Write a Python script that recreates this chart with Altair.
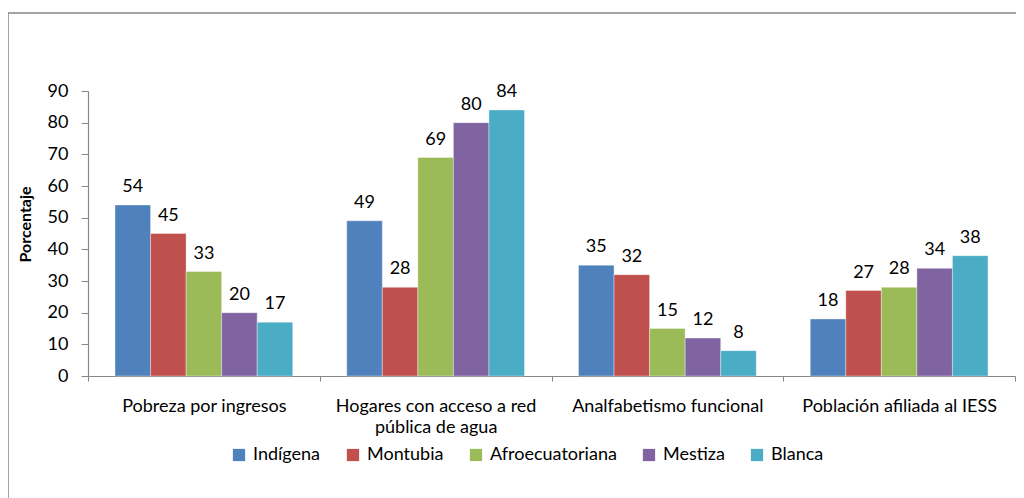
import altair as alt
import pandas as pd

categories = ["Pobreza por ingresos", "Hogares con acceso a red|pública de agua",
              "Analfabetismo funcional", "Población afiliada al IESS"]
series = ["Indígena", "Montubia", "Afroecuatoriana", "Mestiza", "Blanca"]
colors = ["#4F81BD", "#C0504D", "#9BBB59", "#8064A2", "#4BACC6"]

indigena = [54, 49, 35, 18]
montubia = [45, 28, 32, 27]
afro = [33, 69, 15, 28]
mestiza = [20, 80, 12, 34]
blanca = [17, 84, 8, 38]

rows = []
for s, vals in zip(series, [indigena, montubia, afro, mestiza, blanca]):
    for c, v in zip(categories, vals):
        rows.append({"category": c, "series": s, "value": v})
df = pd.DataFrame(rows)

FONT = "Lato"
GRAY = "#878787"

x_enc = alt.X("category:N", sort=categories,
              scale=alt.Scale(paddingInner=0, paddingOuter=0),
              axis=alt.Axis(title=None, labelAngle=0, tickBand="extent",
                            labelExpr="split(datum.label, '|')", labelLimit=0,
                            labelFont=FONT, labelFontSize=18, labelColor="#000000",
                            labelLineHeight=21, labelPadding=16, tickSize=5,
                            domainColor=GRAY, tickColor=GRAY, domainWidth=1.2,
                            labelAlign="center"))
xo_enc = alt.XOffset("series:N", sort=series,
                     scale=alt.Scale(paddingInner=0, paddingOuter=0.76))
y_enc = alt.Y("value:Q",
              scale=alt.Scale(domain=[0, 90], nice=False),
              axis=alt.Axis(values=list(range(0, 91, 10)), grid=False,
                            title="Porcentaje", titleFont=FONT, titleFontSize=16,
                            titleFontWeight="bold", titleColor="#000000",
                            titleX=-63, titleY=133, titleAngle=-90,
                            titleAlign="center", titleBaseline="middle",
                            labelFont=FONT, labelFontSize=18, labelColor="#000000",
                            labelPadding=13, tickSize=7,
                            domainColor=GRAY, tickColor=GRAY, domainWidth=1.2))

bars = alt.Chart(df).mark_bar(stroke="white", strokeWidth=0.6, strokeOpacity=0.6).encode(
    x=x_enc, xOffset=xo_enc, y=y_enc,
    color=alt.Color("series:N", sort=series,
                    scale=alt.Scale(domain=series, range=colors),
                    legend=alt.Legend(title=None, orient="none", legendX=142, legendY=355,
                                      direction="horizontal", symbolType="square",
                                      symbolSize=150, symbolStrokeWidth=0,
                                      labelFont=FONT, labelFontSize=18,
                                      labelColor="#000000", labelOffset=5,
                                      columnPadding=23, padding=0))
)

labels = alt.Chart(df).mark_text(baseline="alphabetic", dy=-13, font=FONT,
                                 fontSize=18, color="#000000").encode(
    x=x_enc, xOffset=xo_enc, y=y_enc, text=alt.Text("value:Q")
)

border = alt.Chart(alt.Data(values=[{"a": 1}])).mark_rect(
    fill=None, stroke=GRAY, strokeWidth=1.5).encode(
    x=alt.value(-80), x2=alt.value(1000), y=alt.value(-78), y2=alt.value(600)
)

chart = alt.layer(border, bars, labels).properties(
    width=927, height=285,
    autosize=alt.AutoSizeParams(type="none"),
    padding={"left": 80, "top": 83, "right": 1, "bottom": 122}
).configure_view(strokeWidth=0)

chart.save("out.html", embed_options={"renderer": "svg", "actions": False})
